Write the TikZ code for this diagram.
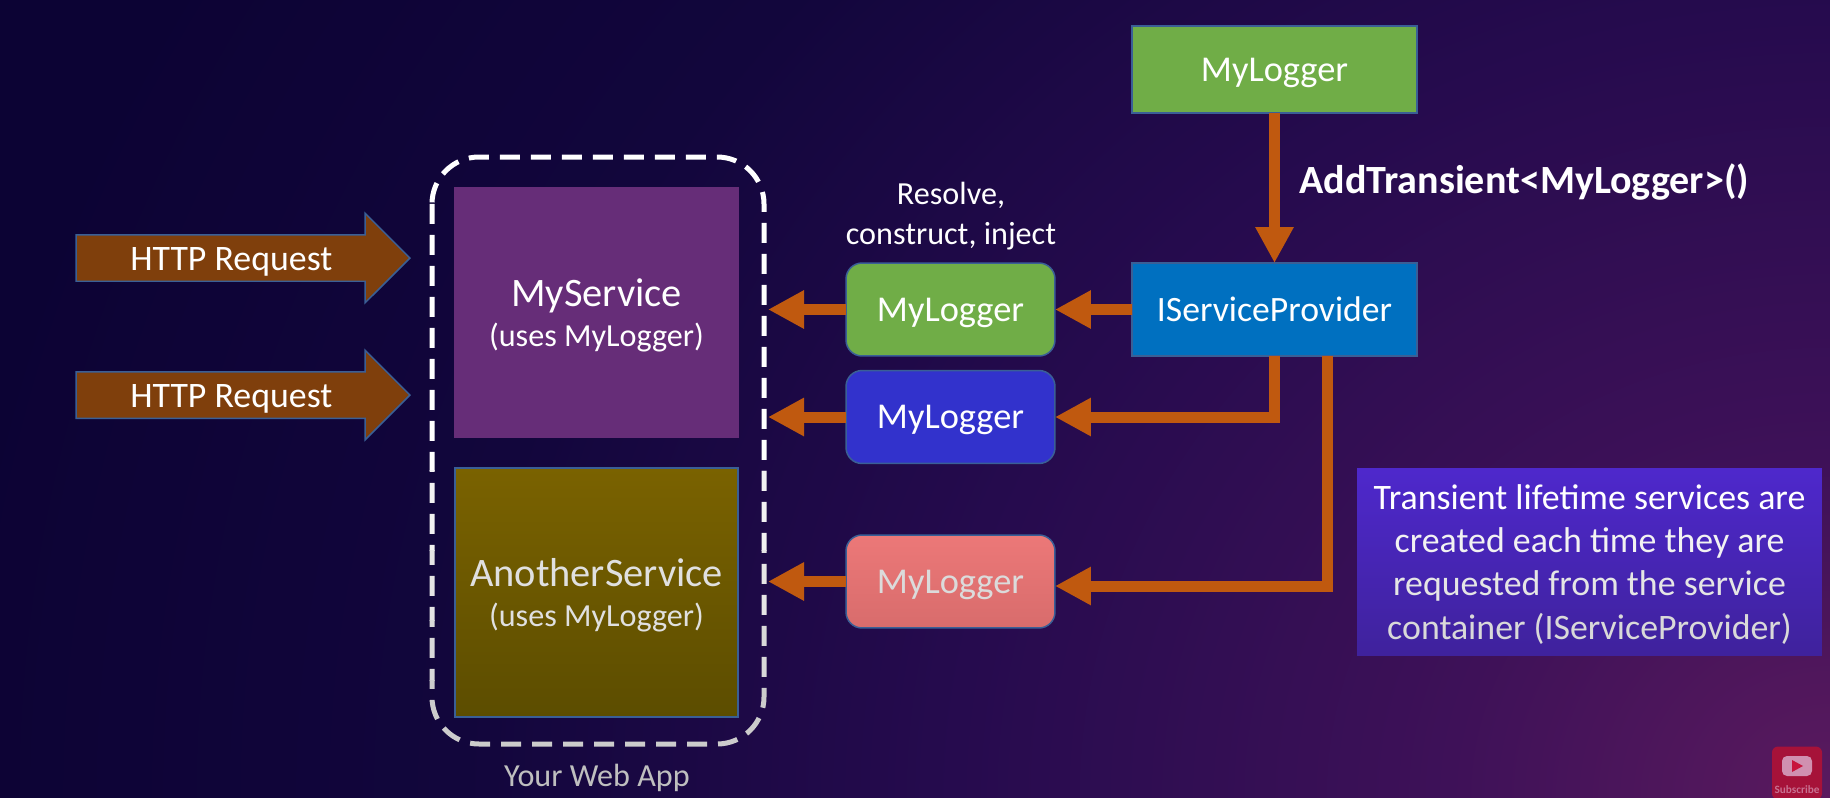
\documentclass[tikz,border=0pt]{standalone}
\usepackage{fontspec}
\setmainfont{Carlito}
\usepackage{tikz}
\usetikzlibrary{shapes,arrows.meta,positioning,calc}

\definecolor{pipeorange}{HTML}{C0590F}
\definecolor{edgeblue}{HTML}{3A5F96}
\definecolor{loggergreen}{HTML}{70AD47}
\definecolor{providerblue}{HTML}{0070C0}
\definecolor{loggerblue}{HTML}{3232CC}
\definecolor{servicepurple}{HTML}{662D78}
\definecolor{requestbrown}{HTML}{7F3F0C}
\definecolor{oliveup}{HTML}{7A6200}
\definecolor{olivedown}{HTML}{5C4D00}
\definecolor{pinkup}{HTML}{EC7878}
\definecolor{pinkdown}{HTML}{D86C6C}
\definecolor{noteup}{HTML}{4E28CC}
\definecolor{notedown}{HTML}{3F229C}
\definecolor{badgered}{HTML}{A61239}
\definecolor{badgepale}{HTML}{D090B0}
\definecolor{badgeplay}{HTML}{C8143C}
\definecolor{badgetext}{HTML}{C87090}
\definecolor{bgA}{HTML}{5A1A5E}
\definecolor{bgB}{HTML}{3E1158}
\definecolor{bgC}{HTML}{260B4E}
\definecolor{bgD}{HTML}{12063C}
\definecolor{bgE}{HTML}{0C0334}
\pgfdeclareradialshading{bgfade}{\pgfpoint{0bp}{0bp}}{color(0bp)=(bgA); color(5bp)=(bgB); color(11.5bp)=(bgC); color(18bp)=(bgD); color(25bp)=(bgE); color(50bp)=(bgE)}

\tikzset{
	pipe/.style={draw=pipeorange, line width=0.22cm, -{Triangle[width=0.72cm,length=0.72cm]}},
	plainbox/.style={draw=edgeblue, line width=0.03cm, outer sep=0pt, align=center, text=white, text depth=0pt, font=\fontsize{20.7}{25}\selectfont},
	loggerbox/.style={plainbox, rounded corners=0.32cm, minimum width=4.18cm, minimum height=1.86cm},
	bigbox/.style={plainbox, minimum width=5.7cm},
	servicebox/.style={plainbox, text depth=-0.06cm, minimum width=5.67cm, minimum height=4.99cm},
	requestarrow/.style={single arrow, draw=edgeblue, line width=0.03cm, fill=requestbrown, text=white, text height=0.69cm, text depth=0.21cm, font=\fontsize{20.4}{24}\selectfont, minimum width=1.76cm, minimum height=6.68cm, single arrow head extend=0.43cm, inner sep=0pt, outer sep=0pt, anchor=tail},
	webdash/.style={line width=0.1cm, dash pattern=on 0.4cm off 0.22cm, rounded corners=0.94cm}
}
\newcommand{\smalltext}{\fontsize{18.3}{23}\selectfont}

\begin{document}
\begin{tikzpicture}[x=0.02cm, y=-0.02cm]
	\useasboundingbox (0,0) rectangle (1830,798);
	\begin{scope}
		\clip (0,0) rectangle (1830,798);
		\shade[shading=bgfade] (-70,-902) rectangle (3730,2498);
	\end{scope}

	\node[requestarrow] (requestA) at (76,258) {HTTP Request};
	\node[requestarrow] (requestB) at (76,395) {HTTP Request};

	\foreach \ytop/\ybot/\shadeval in {100/470/100, 470/550/95, 550/620/90, 620/680/85, 680/760/80} {
		\begin{scope}
			\clip (400,\ytop) rectangle (800,\ybot);
			\draw[webdash, draw=white!\shadeval!black] (432,157) rectangle (764,744);
		\end{scope}
	}

	\node[servicebox, fill=servicepurple, draw=servicepurple] (myservice) at (596.5,312.5) {\fontsize{23}{27}\selectfont MyService\\[-2pt]\smalltext (uses MyLogger)};
	\node[servicebox, top color=oliveup, bottom color=olivedown, text=white!88!black] (anotherservice) at (596.5,592.5) {\fontsize{23}{27}\selectfont AnotherService\\[-2pt]\smalltext (uses MyLogger)};
	\node[text=white!75!black, font=\smalltext] (webapp) at (597,778) {Your Web App};

	\node[bigbox, fill=loggergreen, minimum height=1.74cm] (registered) at (1274.5,69.5) {MyLogger};
	\node[bigbox, fill=providerblue, minimum height=1.86cm, font=\fontsize{20.3}{25}\selectfont] (provider) at (1274.5,309.5) {IServiceProvider};
	\node[loggerbox, fill=loggergreen] (loggerA) at (950.5,309.5) {MyLogger};
	\node[loggerbox, fill=loggerblue] (loggerB) at (950.5,417) {MyLogger};
	\node[loggerbox, top color=pinkup, bottom color=pinkdown, text=white!86!black] (loggerC) at (950.5,581.5) {MyLogger};

	\node[text=white, align=center, font=\smalltext] (resolve) at (951,216) {Resolve,\\construct, inject};
	\node[text=white, anchor=west, inner sep=0pt, font=\fontsize{22.8}{27}\selectfont\bfseries] (addlabel) at (1299,182) {AddTransient<MyLogger>()};

	\node[top color=noteup, bottom color=notedown, minimum width=9.3cm, minimum height=3.76cm, align=center, text depth=0pt, font=\fontsize{20.4}{24.5}\selectfont, outer sep=0pt] (note) at (1589.5,562) {\textcolor{white}{Transient lifetime services are}\\\textcolor{white!95!black}{created each time they are}\\\textcolor{white!90!black}{requested from the service}\\\textcolor{white!85!black}{container (IServiceProvider)}};

	\coordinate (appA) at (768,309.5);
	\coordinate (appB) at (768,417);
	\coordinate (appC) at (768,581.5);
	\draw[pipe] (registered.south) -- (provider.north);
	\draw[pipe] (provider.west) -- (loggerA.east);
	\draw[pipe] (provider.south) |- (loggerB.east);
	\draw[pipe] ([xshift=1.06cm]provider.south) |- ([yshift=-0.09cm]loggerC.east);
	\draw[pipe] (loggerA.west) -- (appA);
	\draw[pipe] (loggerB.west) -- (appB);
	\draw[pipe] (loggerC.west) -- (appC);

	\node[fill=badgered, rounded corners=0.12cm, minimum width=1cm, minimum height=1.06cm, outer sep=0pt] (badge) at (1797,773) {};
	\node[fill=badgepale, rounded corners=0.1cm, minimum width=0.6cm, minimum height=0.4cm, inner sep=0pt] (playbox) at (1797,766) {};
	\fill[badgeplay] (1792,760) -- (1803,766) -- (1792,772) -- cycle;
	\node[text=badgetext, inner sep=0pt, font=\fontsize{6.4}{7}\selectfont\bfseries] (subscribe) at (1797,790) {Subscribe};
\end{tikzpicture}
\end{document}
